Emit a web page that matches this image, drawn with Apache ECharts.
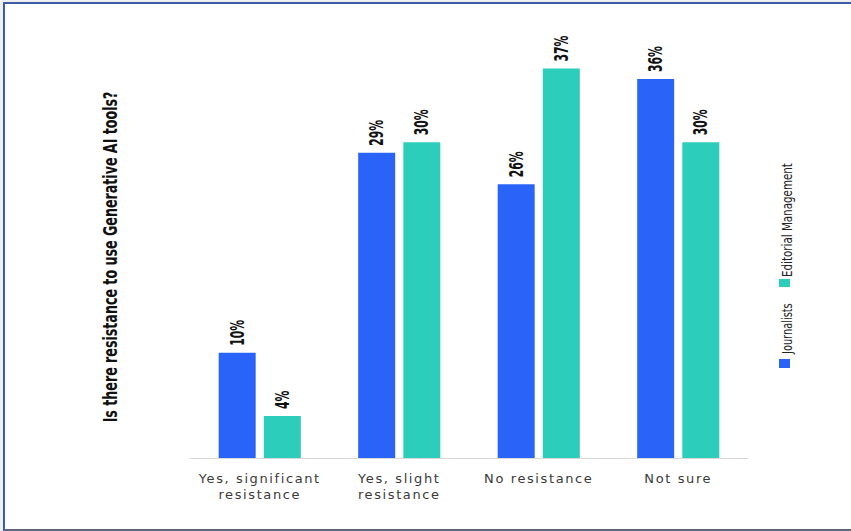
<!DOCTYPE html>
<html>
<head>
<meta charset="utf-8">
<script src="https://cdn.jsdelivr.net/npm/echarts@6/dist/echarts.min.js"></script>
<style>
  html, body { margin: 0; padding: 0; background: #efefef; }
  #frame {
    position: absolute; left: 3px; top: 2px; width: 860px; height: 525px;
    background: #ffffff;
    border-top: 2px solid #3b5ca6;
    border-left: 2px solid #3b5ca6;
    border-bottom: 2px solid #5c6980;
  }
  #chart { position: absolute; left: 0; top: 0; width: 851px; height: 531px; }
  /* airy tracking for the category names */
  #chart text[style*="Verdana"] { letter-spacing: 1.6px; }
</style>
</head>
<body>
<div id="frame"></div>
<div id="chart"></div>
<script>
// Survey answers: resistance to using generative AI tools
const categories = ['Yes, significant\nresistance', 'Yes, slight\nresistance', 'No resistance', 'Not sure'];
const journalists = [10, 29, 26, 36];
const editorialManagement = [4, 30, 37, 30];
const seriesNames = ['Journalists', 'Editorial Management'];
const questionText = 'Is there resistance to use Generative AI tools?';

const colors = ['#2a63f8', '#2dcdbb'];
const condensed = "'DejaVu Sans Condensed', sans-serif";

const BAR_WIDTH = 37;
const BAR_GAP = '22%';
const BAR_OFFSET = (BAR_WIDTH + BAR_WIDTH * 0.22) / 2;

const chart = echarts.init(document.getElementById('chart'), null, { renderer: 'svg' });

// Tall, narrow value labels standing on top of each bar
function valueLabelSeries(values, side) {
  return {
    type: 'custom',
    z: 5,
    silent: true,
    data: values.map((v, i) => [i, v]),
    encode: { x: 0, y: 1 },
    renderItem: function (params, api) {
      const p = api.coord([api.value(0), api.value(1)]);
      return {
        type: 'text',
        x: p[0] + side * BAR_OFFSET,
        y: p[1] - 7,
        rotation: Math.PI / 2,
        scaleX: 0.6,
        style: {
          text: api.value(1) + '%',
          fontFamily: condensed,
          fontWeight: 'bold',
          fontSize: 20,
          fill: '#111111',
          align: 'left',
          verticalAlign: 'middle'
        }
      };
    }
  };
}

chart.setOption({
  backgroundColor: 'transparent',
  animation: false,
  grid: { left: 190, right: 103, top: 37, bottom: 73 },
  xAxis: {
    type: 'category',
    data: categories,
    axisLine: { show: true, lineStyle: { color: '#d9d9d9', width: 1 } },
    axisTick: { show: false },
    axisLabel: {
      margin: 12,
      fontFamily: "Verdana, 'DejaVu Sans', sans-serif",
      fontSize: 13,
      lineHeight: 16,
      color: '#3a3a3a'
    }
  },
  yAxis: {
    type: 'value',
    min: 0,
    max: 40,
    show: false
  },
  series: [
    {
      name: seriesNames[0],
      type: 'bar',
      data: journalists,
      barWidth: BAR_WIDTH,
      barGap: BAR_GAP,
      itemStyle: { color: colors[0] }
    },
    {
      name: seriesNames[1],
      type: 'bar',
      data: editorialManagement,
      barWidth: BAR_WIDTH,
      itemStyle: { color: colors[1] }
    },
    valueLabelSeries(journalists, -1),
    valueLabelSeries(editorialManagement, 1)
  ],
  graphic: [
    {
      type: 'text',
      x: 110, y: 257,
      rotation: Math.PI / 2,
      scaleX: 0.74,
      style: {
        text: questionText,
        fontFamily: condensed,
        fontWeight: 'bold',
        fontSize: 19,
        fill: '#111111',
        align: 'center',
        verticalAlign: 'middle'
      }
    },
    // rotated legend, reading bottom to top
    { type: 'rect', shape: { x: 779, y: 359, width: 11, height: 9 }, style: { fill: colors[0] } },
    {
      type: 'text', x: 787, y: 354, rotation: Math.PI / 2, scaleX: 0.78,
      style: { text: seriesNames[0], fontFamily: condensed, fontSize: 14, fill: '#222222', align: 'left', verticalAlign: 'middle' }
    },
    { type: 'rect', shape: { x: 779, y: 279, width: 11, height: 8 }, style: { fill: colors[1] } },
    {
      type: 'text', x: 787, y: 277, rotation: Math.PI / 2, scaleX: 0.82,
      style: { text: seriesNames[1], fontFamily: condensed, fontSize: 14, fill: '#222222', align: 'left', verticalAlign: 'middle' }
    }
  ]
});
</script>
</body>
</html>
